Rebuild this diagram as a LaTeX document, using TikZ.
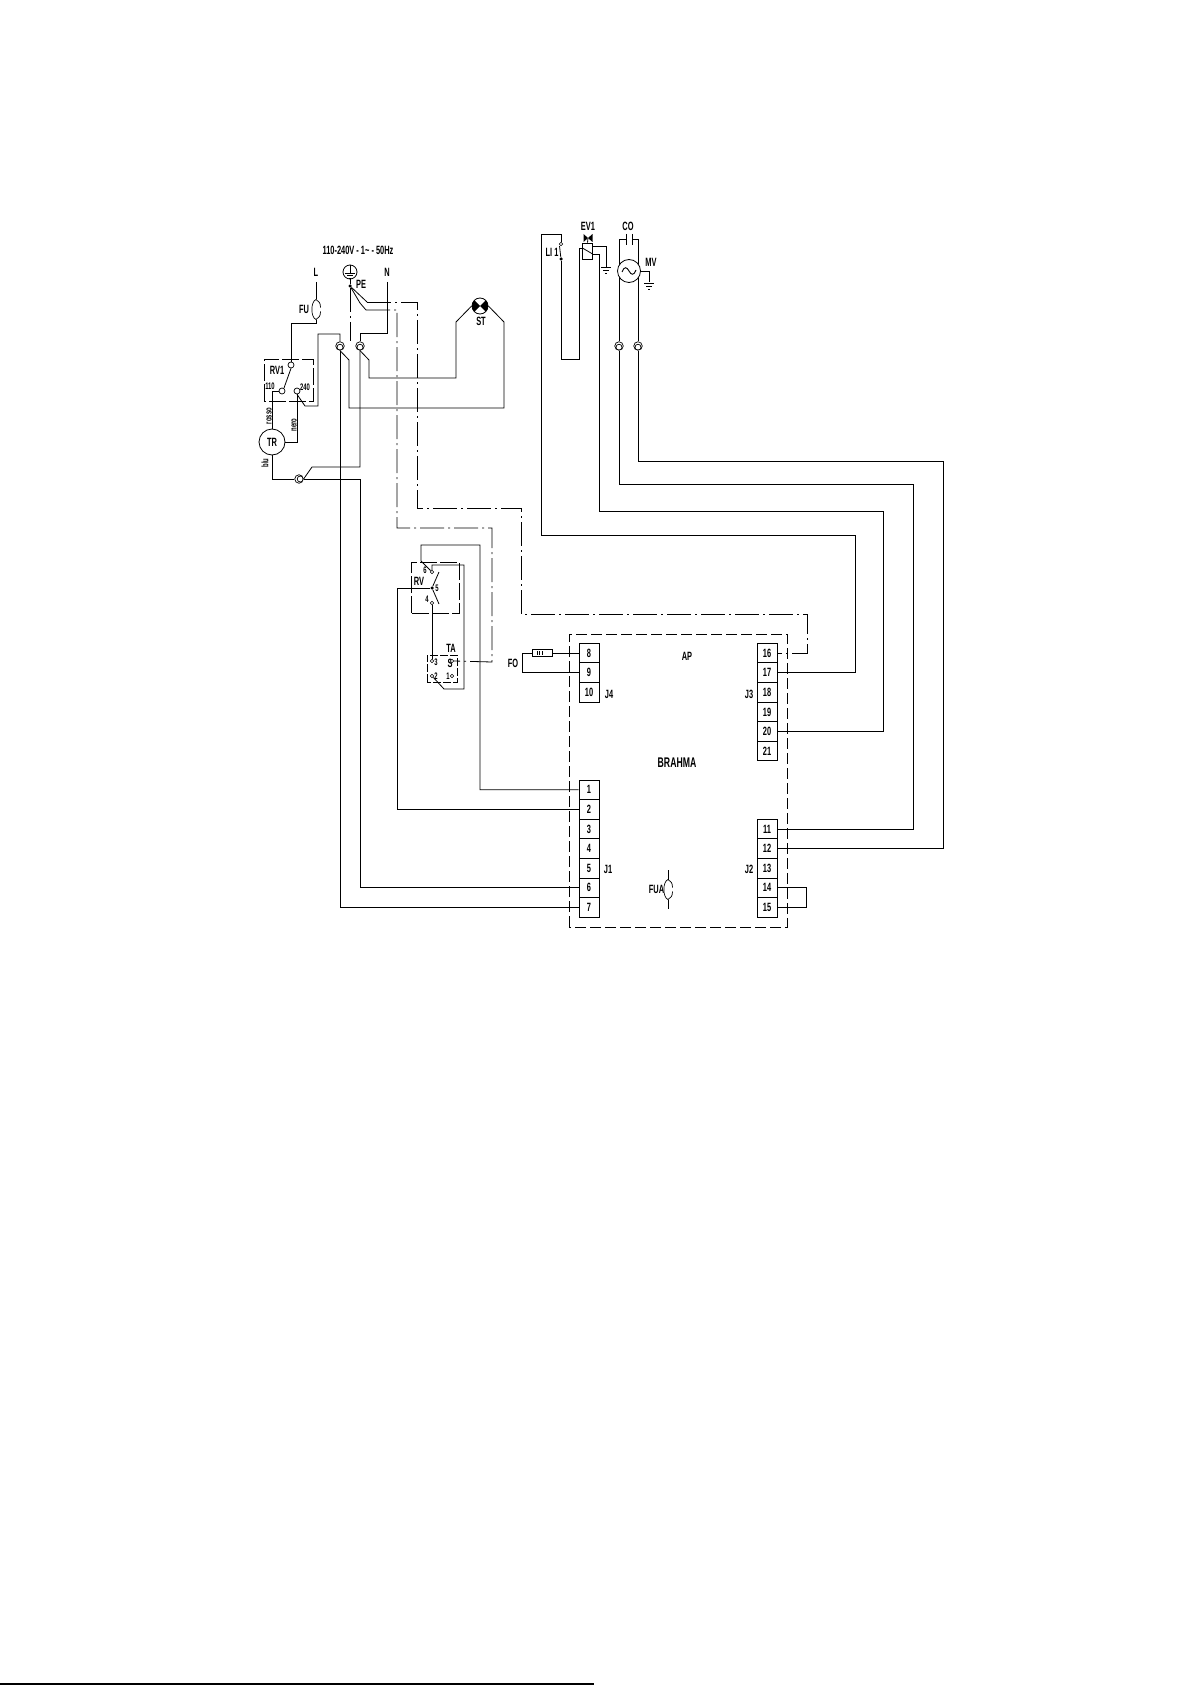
\documentclass[tikz,border=0pt]{standalone}
\usepackage{fontspec}
\setmainfont{Liberation Sans}[FakeStretch=0.62]
\usetikzlibrary{positioning,calc}
\tikzset{
  wire/.style     = {draw, line width=0.8pt},
  pewire/.style   = {draw, line width=0.8pt, dash pattern=on 24pt off 4pt on 2pt off 4pt},
  boxline/.style  = {draw, line width=0.8pt, dash pattern=on 11pt off 4pt},
  rvline/.style   = {draw, line width=0.8pt, dash pattern=on 17pt off 3pt},
  terminal/.style = {draw, line width=0.9pt, minimum width=20pt, minimum height=19.6pt, inner sep=0pt, font=\bfseries\fontsize{12}{12}\selectfont},
  tag/.style      = {inner sep=0pt, font=\bfseries\fontsize{12}{12}\selectfont},
  smalltag/.style = {inner sep=0pt, font=\bfseries\fontsize{9.5}{10}\selectfont},
  contact/.style  = {draw, circle, line width=0.7pt, fill=white, minimum size=6pt, inner sep=0pt},
  tinycontact/.style = {draw, circle, line width=0.6pt, fill=white, minimum size=3.5pt, inner sep=0pt},
  dot/.style      = {circle, fill=black, minimum size=3.5pt, inner sep=0pt},
  plugv/.style    = {draw, circle, line width=0.7pt, minimum size=8.5pt, inner sep=0pt,
                     path picture={\draw[line width=0.7pt] ([yshift=-1.2pt]path picture bounding box.center) circle (3pt);}},
  plugh/.style    = {draw, circle, line width=0.7pt, minimum size=8.5pt, inner sep=0pt,
                     path picture={\draw[line width=0.7pt] ([xshift=1.2pt]path picture bounding box.center) circle (3pt);}},
  motor/.style    = {draw, circle, line width=0.8pt, inner sep=0pt, fill=white},
  fuse/.pic       = {
    \draw[line width=0.7pt] (0,-10) .. controls (-5.5,-8) and (-5.5,8) .. (0,10);
    \draw[line width=0.7pt] (0,-10) .. controls (3,-9) and (4.5,-6) .. (4.5,-2);
    \draw[line width=0.7pt] (0,10) .. controls (3,9) and (4.5,6) .. (4.5,2);
  },
  gnd/.pic        = {
    \draw[line width=0.7pt] (-5,0) -- (5,0) (-3,3) -- (3,3) (-1,6) -- (1,6);
  }
}
\begin{document}
\begin{tikzpicture}[x=1pt,y=-1pt]
  \useasboundingbox (0,0) rectangle (1191,1685);
  \fill[white] (0,0) rectangle (1191,1685);
  \draw[line width=1.4pt] (0,1684) -- (594,1684);

  % supply
  \node[tag] (supply) at (358,250) {110-240V - 1\textasciitilde{} - 50Hz};
  \node[tag] (L) at (316,272) {L};
  \node[tag] (N) at (387,272) {N};
  \node[tag] (PE) at (361,284) {PE};
  \node[tag] (FU) at (304,309) {FU};
  \node[motor, minimum size=14pt] (earth) at (350,272) {};
  \draw[line width=0.6pt] (earth.north) -- (350,273) (345,273) -- (355,273) (347,275.5) -- (353,275.5) (349,278) -- (351,278);
  \node[dot] (pe) at (350,286) {};
  \coordinate (Lend) at (316,282);
  \coordinate (Nend) at (387,282);
  \pic at (316,309.5) {fuse};

  \node[plugv] (plugL) at (340,346) {};
  \node[plugv] (plugN) at (360,346) {};
  \node[plugh] (plugB) at (299,479) {};

  % RV1 and transformer
  \draw[rvline] (264,401) -- (264,359) -- (313,359) -- (313,401) -- cycle;
  \node[tag] (RV1) at (277,370) {RV1};
  \node[smalltag] (l110) at (270,386) {110};
  \node[smalltag] (l240) at (305,387) {240};
  \node[contact] (cCom) at (291,365) {};
  \node[contact] (c110) at (282,391) {};
  \node[contact] (c240) at (297,391) {};
  \node[motor, minimum size=26pt] (TR) at (272,442) {};
  \node[tag] at (TR) {TR};
  \node[smalltag, rotate=90] (rosso) at (269,416) {rosso};
  \node[smalltag, rotate=90] (nero) at (294,425) {nero};
  \node[smalltag, rotate=90] (blu) at (265,463) {blu};

  \draw[wire] (Lend) -- (316,299.5);
  \draw[wire] (316,319.5) -- (316,323) -| (cCom.north);
  \draw[wire] (cCom.south) -- (284,388);
  \draw[wire] (c110.west) -| (TR.north);
  \draw[wire] (c240.south) |- (TR.east);
  \draw[wire] (c240.south) -- (305,406) -- (318,406) -- (318,334) -| (plugL.north);
  \draw[wire] (Nend) -- (387,333) -| (plugN.north);
  \draw[wire] (plugN.south) -- (360,467) -- (312,467) -- (plugB.east);
  \draw[wire] (plugB.west) -| (TR.south);

  % lamp
  \node[draw, circle, line width=0.8pt, minimum size=16pt, inner sep=0pt,
        path picture={\fill (path picture bounding box.center) -- +(-12pt,12pt) -- +(-12pt,-12pt) -- cycle;
                      \fill (path picture bounding box.center) -- +(12pt,12pt) -- +(12pt,-12pt) -- cycle;}] (ST) at (480,306) {};
  \node[tag] (STl) at (481,321) {ST};
  \draw[wire] (plugL.south) -- (349,360) -- (349,408) -- (504,408) -- (504,322) -- (ST.east);
  \draw[wire] (plugN.south) -- (369,360) -- (369,378) -- (456,378) -- (456,322) -- (ST.west);

  % protective earth
  \draw[wire] (earth.south) -- (pe);
  \draw[pewire] (pe) -- (plugL.north -| pe);
  \draw[wire] (pe) -- (367,302);
  \draw[wire] (pe) -- (360,303) -- (366,310);

  % RV and TA
  \draw[rvline] (411,613) -- (411,562) -- (459,562) -- (459,613) -- cycle;
  \node[tag] (RV) at (419,581) {RV};
  \node[tinycontact] (c6) at (432,572) {};
  \node[dot] (c5) at (432,588) {};
  \node[tinycontact] (c4) at (432,603) {};
  \node[smalltag] at (425,570) {6};
  \node[smalltag] at (437,588) {5};
  \node[smalltag] at (427,599) {4};
  \draw[wire] (c5) -- (439,572);
  \draw[wire] (c5) -- (439,604);

  \draw[draw, line width=0.8pt, dash pattern=on 8pt off 2pt] (427,682) -- (427,655) -- (457,655) -- (457,682) -- cycle;
  \node[tag] (TA) at (451,648) {TA};
  \node[tinycontact] (c3) at (432,661) {};
  \node[tinycontact] (c2) at (432,676) {};
  \node[tinycontact] (c1) at (452,676) {};
  \node[tag] at (450,663) {S};
  \node[tinycontact] (cS) at (452,661) {};
  \node[smalltag] at (436,662) {3};
  \node[smalltag] at (436,676) {2};
  \node[smalltag] at (448,676) {1};
  \draw[wire] (c4) -- (c3);
  \draw[wire] (c2) -- (444,689) -- (464,689) -- (464,565) -- (432,565) -- (c6);

  % board
  \draw[boxline] (569,927) -- (569,634) -- (787,634) -- (787,927) -- cycle;
  \node[tag] (AP) at (687,656) {AP};
  \node[tag, font=\bfseries\fontsize{14}{14}\selectfont] (brahma) at (677,763) {BRAHMA};
  \node[tag] (J4) at (609,694) {J4};
  \node[tag] (J3) at (749,694) {J3};
  \node[tag] (J1) at (608,869) {J1};
  \node[tag] (J2) at (749,869) {J2};
  \node[tag] (FUA) at (656.5,889) {FUA};
  \draw[wire] (668,870) -- (668,879.5) (668,899.5) -- (668,909);
  \pic at (668,889.5) {fuse};
  \foreach \n/\y in {8/653.1,9/672.7,10/692.3,16/653.1,17/672.7,18/692.3,19/711.9,20/731.5,21/751.1,11/829,12/848.6,13/868.2,14/887.8,15/907.4} {
    \ifnum\n<11 \node[terminal] (t\n) at (589,\y) {\n};
    \else \node[terminal] (t\n) at (767,\y) {\n}; \fi
  }
  \foreach \n/\y in {1/789.8,2/809.4,3/829,4/848.6,5/868.2,6/887.8,7/907.4} {
    \node[terminal] (t\n) at (589,\y) {\n};
  }
  \draw[wire] (t14.east) -- (806,887.8) -- (806,907.4) -- (t15.east);

  % sensor
  \node[draw, line width=0.8pt, minimum width=20pt, minimum height=7pt, inner sep=0pt] (FOr) at (542,653.1) {};
  \draw[line width=0.6pt] (537,651) -- (537,655.2) (539.5,651) -- (539.5,655.2) (542,651) -- (542,655.2);
  \node[tag] (FO) at (513,663) {FO};
  \draw[wire] (FOr.east) -- (t8.west);
  \draw[wire] (FOr.west) -- (522,653.1) |- (t9.west);

  % wires to the board
  \draw[wire] (plugL.south) |- (t7.west);
  \draw[wire] (plugB.east) -- (360,479) |- (t6.west);
  \draw[wire] (c6) -- (421,561) -- (421,545) -- (480,545) |- (t1.west);
  \draw[wire] (c5) -- (397,588) |- (t2.west);
  \draw[pewire] (367,302) -- (417,302) -- (417,508) -- (521,508) -- (521,614) -- (807,614) -- (807,653.1) -- (t16.east);
  \draw[pewire] (366,310) -- (397,310) -- (397,528) -- (492,528) -- (492,662) -- (cS.east);

  % top right loads
  \node[tag] (LI) at (552,252) {LI 1};
  \node[tinycontact] (cLI) at (561,244) {};
  \node[dot] (dLI) at (561,259) {};
  \draw[wire] (dLI) -- (559.5,246);
  \node[tag] (EV1) at (588,226) {EV1};
  \coordinate (valve) at (588,238);
  \fill (valve) -- +(-4.5,-4) -- +(-4.5,4) -- cycle;
  \fill (valve) -- +(4.5,-4) -- +(4.5,4) -- cycle;
  \node[draw, line width=0.8pt, minimum width=9.5pt, minimum height=16pt, inner sep=0pt] (coil) at (587.5,251) {};
  \draw[wire] (valve) -- (coil.north);
  \draw[wire] (coil.north west |- 0,248) -- (coil.east |- 0,254);
  \draw[wire] (coil.east |- 0,246) -- (606,246) -- (606,267);
  \pic at (606,267) {gnd};
  \node[tag] (CO) at (628,226) {CO};
  \draw[line width=0.9pt] (626,234) -- (626,245) (632,234) -- (632,245);
  \node[plugv] (plugC) at (619,346) {};
  \node[plugv] (plugD) at (638,346) {};
  \draw[wire] (626,239) -- (619,239) -- (plugC.north);
  \draw[wire] (632,239) -- (638,239) -- (plugD.north);
  \node[motor, minimum size=23pt] (MV) at (629,271) {};
  \draw[line width=0.9pt] (622,272) .. controls (624,266) and (627,267) .. (629,271) .. controls (631,275) and (634,276) .. (636,270);
  \node[tag] (MVl) at (651,262) {MV};
  \draw[wire] (MV.east) -- (649,271) -- (649,282);
  \pic at (649,283) {gnd};

  \draw[wire] (t17.east) -| (855,535) -| (541,234) -- (561,234) -- (cLI.north);
  \draw[wire] (dLI) -- (561,359) -- (579,359) -- (579,248) -- (coil.west |- 0,248);
  \draw[wire] (t20.east) -| (883,511) -| (599,254) -- (coil.east |- 0,254);
  \draw[wire] (t11.east) -| (913,484) -| (plugC.south);
  \draw[wire] (t12.east) -| (943,461) -| (plugD.south);
\end{tikzpicture}
\end{document}
